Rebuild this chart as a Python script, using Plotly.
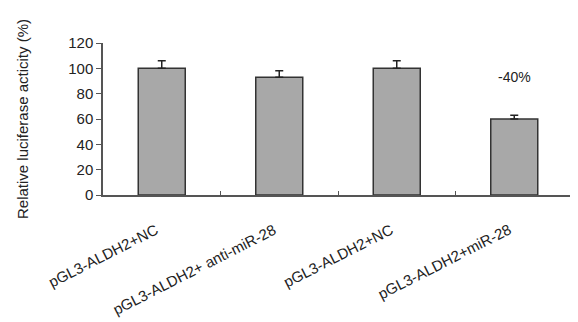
import plotly.graph_objects as go

categories = ["pGL3-ALDH2+NC", "pGL3-ALDH2+ anti-miR-28", "pGL3-ALDH2+NC", "pGL3-ALDH2+miR-28"]
values = [100, 93, 100, 60]
errors = [6, 5, 6, 3]
y_ticks = [0, 20, 40, 60, 80, 100, 120]
note_text = "-40%"
note_y = 93

xpos = list(range(len(categories)))
FONT = "Liberation Sans, Arial"

fig = go.Figure()
fig.add_trace(go.Bar(
    x=xpos, y=values, width=0.4,
    marker=dict(color="#a8a8a8", line=dict(color="#333333", width=1.5)),
    error_y=dict(type="data", array=errors, arrayminus=[0]*len(errors), symmetric=False,
                 color="#222222", thickness=1.5, width=4),
    showlegend=False,
))
fig.add_trace(go.Scatter(x=[-0.5, 3.5], y=[0, 0], xaxis="x2", mode="lines",
                         line=dict(width=0), hoverinfo="skip", showlegend=False))

fig.add_annotation(x=3, y=note_y, text=note_text, showarrow=False,
                   font=dict(family=FONT, size=14, color="#222222"))

for xp, lab in zip(xpos, categories):
    fig.add_annotation(x=xp, y=0, xref="x", yref="y", text=lab, showarrow=False,
                       textangle=-27, xanchor="right", yanchor="top", yshift=-23, xshift=2,
                       font=dict(family=FONT, size=15, color="#222222"))

# page body has an 8px margin: figure is sized/offset to compensate
fig.update_layout(
    width=570, height=314,
    margin=dict(l=95, r=5, t=35, b=127, autoexpand=False),
    paper_bgcolor="white", plot_bgcolor="white",
    font=dict(family=FONT, color="#222222"),
    xaxis=dict(range=[-0.5, 3.5], tickvals=xpos, showticklabels=False,
               ticks="", showline=True, linecolor="#555555", linewidth=1.5, automargin=False,
               showgrid=False, zeroline=False),
    xaxis2=dict(range=[-0.5, 3.5], overlaying="x", side="bottom", anchor="y",
                tickvals=[0.5, 1.5, 2.5, 3.5], ticks="inside", ticklen=4, tickwidth=1.2,
                tickcolor="#555555", showticklabels=False, showgrid=False, zeroline=False,
                showline=False, automargin=False),
    yaxis=dict(range=[0, 120], tickvals=y_ticks, ticks="outside", ticklen=5, tickwidth=1.2,
               tickcolor="#555555", showline=True, linecolor="#555555", linewidth=1.5,
               showgrid=False, zeroline=False, tickfont=dict(size=15, color="#222222"),
               automargin=False,
               title=dict(text="Relative luciferase acticity (%)", font=dict(size=15, color="#222222"),
                          standoff=36)),
)

fig.write_html("out.html")
